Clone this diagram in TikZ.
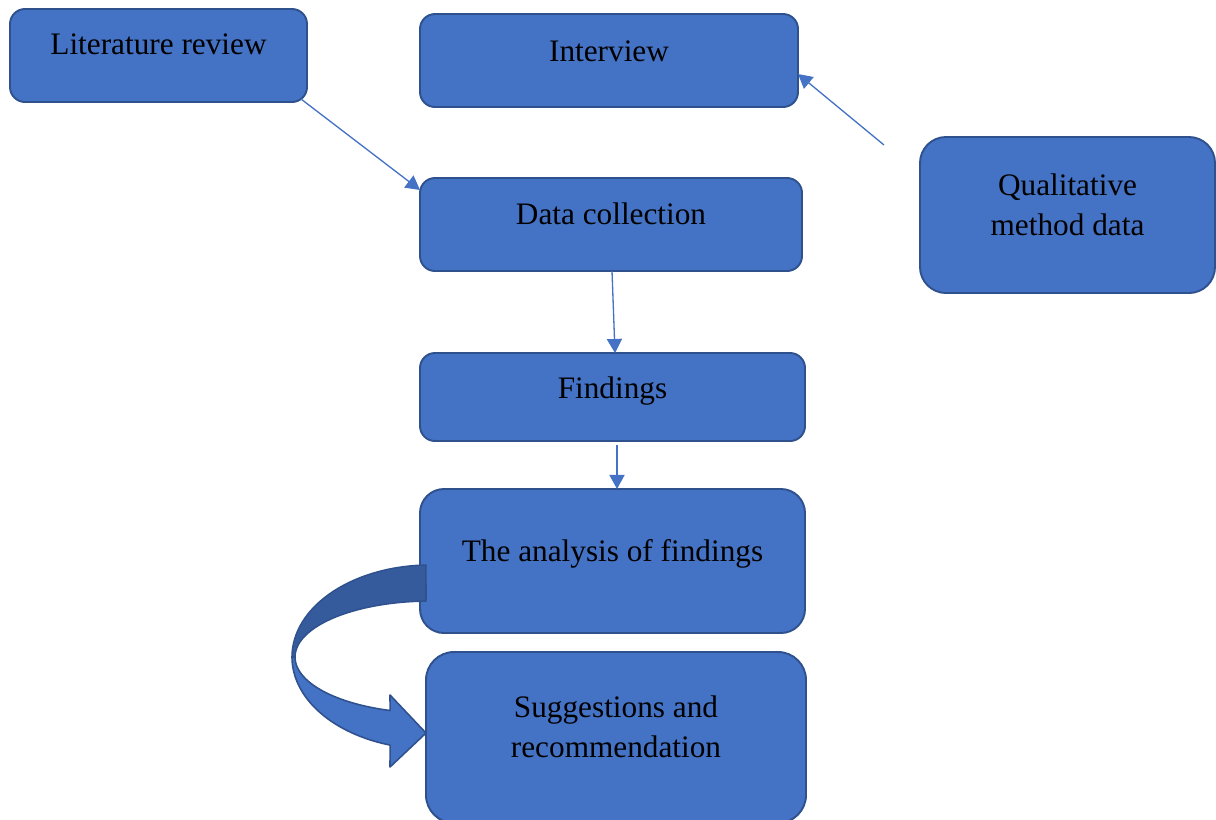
\documentclass[tikz,border=0pt]{standalone}
\usepackage{fontspec}
\setmainfont{Liberation Serif}
\usetikzlibrary{arrows.meta,calc}
\newlength{\pxu}
\setlength{\pxu}{0.02cm}
\definecolor{boxfill}{HTML}{4472C4}
\definecolor{boxline}{HTML}{2F528F}
\definecolor{bandback}{HTML}{365B9D}
\begin{document}
\begin{tikzpicture}[x=0.02cm,y=-0.02cm,
  stepbox/.style={draw=boxline, fill=boxfill, line width=1.1pt,
    inner sep=0pt, outer sep=0pt, anchor=north,
    font=\fontsize{17.8}{22.76}\selectfont},
  link/.style={draw=boxfill, line width=0.75pt,
    -{Triangle[length=8pt,width=8.6pt]}}]
\useasboundingbox (0,0) rectangle (1216,819);

% process boxes (text height/depth place the baseline inside each box)
\node[stepbox, minimum width=297\pxu, text height=45\pxu, text depth=48\pxu,
  rounded corners=15\pxu] (lit) at (158.5,9) {Literature review};
\node[stepbox, minimum width=378\pxu, text height=47\pxu, text depth=46\pxu,
  rounded corners=15\pxu] (intv) at (609,14) {Interview};
\node[stepbox, minimum width=382\pxu, text height=46\pxu, text depth=47\pxu,
  rounded corners=15\pxu] (coll) at (611,178) {Data collection};
\node[stepbox, minimum width=295\pxu, text height=98\pxu, text depth=58\pxu,
  rounded corners=26\pxu] (qual) at (1067.5,137)
  {\begin{tabular}[b]{@{}c@{}}Qualitative\\method data\end{tabular}};
\node[stepbox, minimum width=385\pxu, text height=45\pxu, text depth=43\pxu,
  rounded corners=15\pxu] (find) at (612.5,353) {Findings};
\node[stepbox, minimum width=385\pxu, text height=72\pxu, text depth=72\pxu,
  rounded corners=24\pxu] (anal) at (612.5,489) {The analysis of findings};
\node[stepbox, minimum width=380\pxu, text height=105\pxu, text depth=66\pxu,
  rounded corners=28\pxu] (sugg) at (616,652)
  {\begin{tabular}[b]{@{}c@{}}Suggestions and\\recommendation\end{tabular}};

% connectors
\coordinate (qtail) at (884,145);
\draw[link] ($(lit.south east)+(-6,-3)$) -- ($(coll.north west)+(0,12)$);
\draw[link] (qtail) -- ($(intv.north east)+(0,60)$);
\draw[link] ($(coll.south)+(1,0)$) -- ($(find.north)+(2.5,0)$);
\draw[link] ($(find.south)+(4.5,4)$) -- ($(anal.north)+(4.5,0)$);

% curved block arrow from the analysis box down to the suggestions box
\filldraw[fill=bandback, draw=boxline, line width=0.9pt, line join=round]
  plot[domain=91.7:180, samples=40] ({430+138*cos(\x)},{657-92*sin(\x)})
  -- plot[domain=180:91.7, samples=40] ({430+135*cos(\x)},{657-56*sin(\x)})
  -- cycle;
\filldraw[fill=boxfill, draw=boxline, line width=0.9pt, line join=round]
  plot[domain=180:253.2, samples=40] ({430+138*cos(\x)},{657-92*sin(\x)})
  -- (390,767) -- (426,733) -- (390,695)
  -- plot[domain=252.8:180, samples=40] ({430+135*cos(\x)},{657-56*sin(\x)})
  -- cycle;
\end{tikzpicture}
\end{document}
